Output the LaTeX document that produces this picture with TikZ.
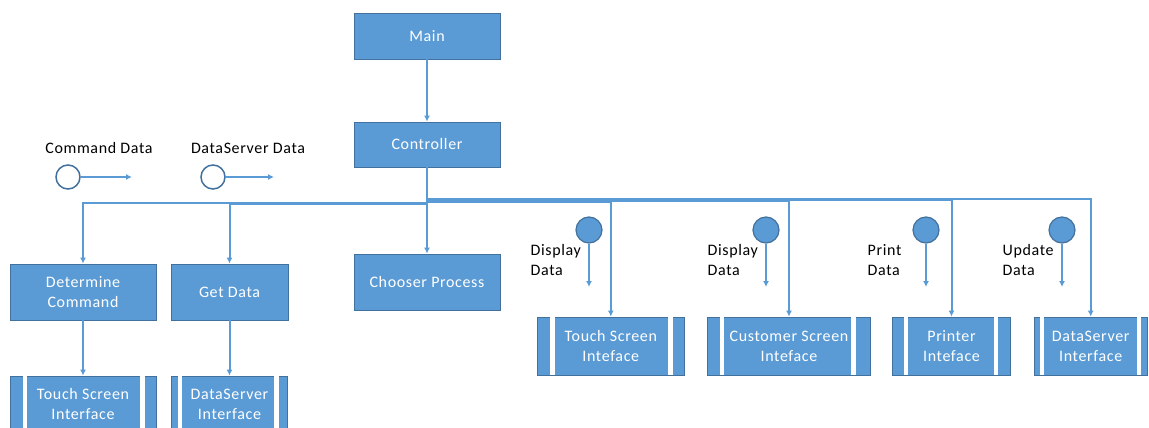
\documentclass[tikz,border=0pt]{standalone}
\usepackage{fontspec}
\setmainfont{Carlito}[LetterSpace=4]
\usetikzlibrary{arrows.meta,calc}
\definecolor{fillblue}{HTML}{5B9BD5}
\definecolor{edgeblue}{HTML}{41719C}
\begin{document}
\begin{tikzpicture}[x=1pt,y=-1pt,
  box/.style={draw=edgeblue,fill=fillblue,line width=0.8,text=white,align=center,inner sep=0,font=\fontsize{16}{20}\selectfont},
  conn/.style={draw=fillblue,line width=2,-{Latex[length=6,width=6]}},
  lbl/.style={text=black,align=left,inner sep=0,font=\fontsize{16}{20}\selectfont},
  dcirc/.style={circle,draw=edgeblue,fill=fillblue,line width=1.2,minimum size=26,inner sep=0},
  lcirc/.style={circle,draw=edgeblue,fill=white,line width=1.5,minimum size=24,inner sep=0}]
\useasboundingbox (0,0) rectangle (1149,428);
\begin{scope}
\clip (0,0) rectangle (1149,428);
% main boxes
\node[box,minimum width=146,minimum height=46] (main) at (427,36) {Main};
\node[box,minimum width=146,minimum height=45] (ctrl) at (427,144.5) {Controller};
\node[box,minimum width=146,minimum height=56] (choose) at (427,282) {Chooser Process};
\node[box,minimum width=146,minimum height=56] (det) at (83,292) {Determine\\Command};
\node[box,minimum width=117,minimum height=56] (gd) at (229.5,292) {Get Data};
% predefined process boxes
\node[box,minimum width=146,minimum height=56] (tsl) at (83,404) {Touch Screen\\Interface};
\node[box,minimum width=116,minimum height=56] (dsl) at (229.5,404) {DataServer\\Interface};
\node[box,minimum width=147,minimum height=58] (tsr) at (610.8,346) {Touch Screen\\Inteface};
\node[box,minimum width=163,minimum height=58] (csr) at (789,346) {Customer Screen\\Inteface};
\node[box,minimum width=118,minimum height=58] (prn) at (951.5,346) {Printer\\Inteface};
\node[box,minimum width=113,minimum height=58] (dsr) at (1090.7,346) {DataServer\\Interface};
\foreach \n/\a/\b in {tsl/15/14,dsl/8.6/11.4,tsr/15.5/14.3,csr/14.5/17.5,prn/13.8/15,dsr/8.5/8.5}{
  \draw[white,line width=4.2] ($(\n.north west)+(\a,0.6)$) -- ($(\n.south west)+(\a,-0.6)$);
  \draw[white,line width=4.2] ($(\n.north east)+(-\b,0.6)$) -- ($(\n.south east)+(-\b,-0.6)$);
}
% connectors
\draw[conn] (main) -- (ctrl);
\draw[conn] (ctrl) -- (choose);
\draw[conn] (ctrl.south) -- ++(0,36) -| (det.north);
\draw[conn] (ctrl.south) -- ++(0,37) -| (gd.north);
\draw[conn] (ctrl.south) -- ++(0,34.5) -| (tsr.north);
\draw[conn] (ctrl.south) -- ++(0,33.5) -| (csr.north);
\draw[conn] (ctrl.south) -- ++(0,32.5) -| (prn.north);
\draw[conn] (ctrl.south) -- ++(0,31.5) -| (dsr.north);
\draw[conn] (det) -- (tsl);
\draw[conn] (gd) -- (dsl);
% data couples
\node[dcirc] (c1) at (589,230) {};
\node[dcirc] (c2) at (766,230) {};
\node[dcirc] (c3) at (926,230) {};
\node[dcirc] (c4) at (1062,230) {};
\coordinate (e1) at (589,287);
\coordinate (e2) at (766,287);
\coordinate (e3) at (926,287);
\coordinate (e4) at (1062,287);
\foreach \i in {1,2,3,4}{\draw[conn] (c\i) -- (e\i);}
\node[lbl,anchor=west] (l1) at (530.5,260) {Display\\Data};
\node[lbl,anchor=west] (l2) at (707.5,260) {Display\\Data};
\node[lbl,anchor=west] (l3) at (867.5,260) {Print\\Data};
\node[lbl,anchor=west] (l4) at (1002.5,260) {Update\\Data};
% legend
\node[lcirc] (k1) at (68,177) {};
\node[lcirc] (k2) at (213,177) {};
\coordinate (f1) at (132,177);
\coordinate (f2) at (274,177);
\draw[conn] (k1) -- (f1);
\draw[conn] (k2) -- (f2);
\node[lbl] (t1) at (99,148) {Command Data};
\node[lbl] (t2) at (248,148) {DataServer Data};
\end{scope}
\end{tikzpicture}
\end{document}
